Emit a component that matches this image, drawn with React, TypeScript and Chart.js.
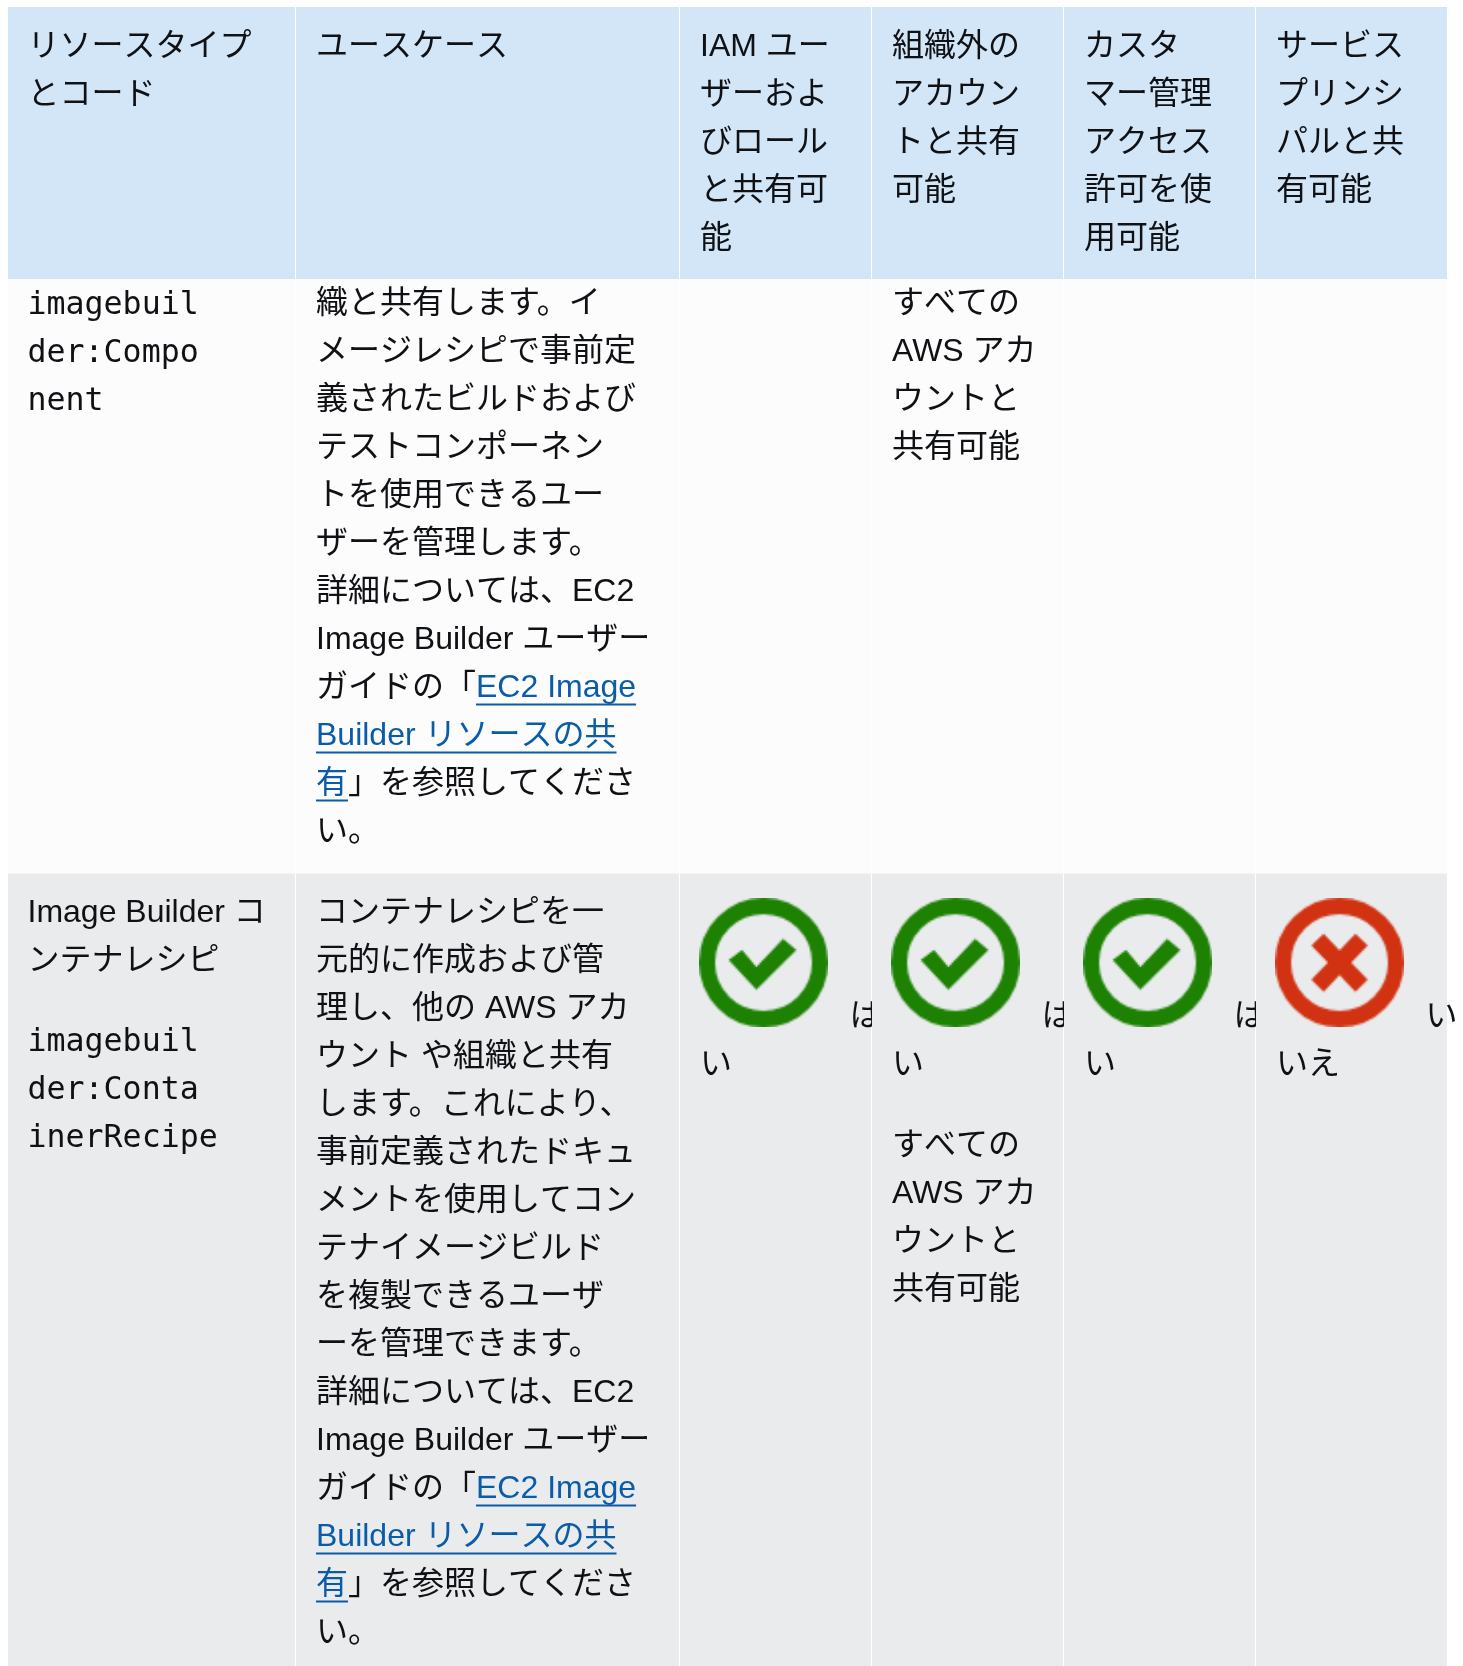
import React, { useEffect, useRef } from "react";
import { Chart, registerables } from "chart.js";

Chart.register(...registerables);

// ---- table content ----
const columnEdges = [8, 296, 680, 872, 1064, 1256, 1447];
const rowEdges = [7, 279, 873.5, 1666];
const rowColors = ["#d3e6f8", "#fcfcfc", "#e9ebed"];

const headerLabels = [
  ["リソースタイプ", "とコード"],
  ["ユースケース"],
  ["IAM ユー", "ザーおよ", "びロール", "と共有可", "能"],
  ["組織外の", "アカウン", "トと共有", "可能"],
  ["カスタ", "マー管理", "アクセス", "許可を使", "用可能"],
  ["サービス", "プリンシ", "パルと共", "有可能"],
];

const componentCode = ["imagebuil", "der:Compo", "nent"];
const componentUseCase = [
  "織と共有します。イ",
  "メージレシピで事前定",
  "義されたビルドおよび",
  "テストコンポーネン",
  "トを使用できるユー",
  "ザーを管理します。",
  "詳細については、EC2",
  "Image Builder ユーザー",
  "ガイドの「[EC2 Image]",
  "[Builder リソースの共]",
  "[有]」を参照してくださ",
  "い。",
];
const componentOrgNote = ["すべての", "AWS アカ", "ウントと", "共有可能"];

const recipeName = ["Image Builder コ", "ンテナレシピ"];
const recipeCode = ["imagebuil", "der:Conta", "inerRecipe"];
const recipeUseCase = [
  "コンテナレシピを一",
  "元的に作成および管",
  "理し、他の AWS アカ",
  "ウント や組織と共有",
  "します。これにより、",
  "事前定義されたドキュ",
  "メントを使用してコン",
  "テナイメージビルド",
  "を複製できるユーザ",
  "ーを管理できます。",
  "詳細については、EC2",
  "Image Builder ユーザー",
  "ガイドの「[EC2 Image]",
  "[Builder リソースの共]",
  "[有]」を参照してくださ",
  "い。",
];
const recipeOrgNote = ["すべての", "AWS アカ", "ウントと", "共有可能"];
const recipeAnswers = ["はい", "はい", "はい", "いいえ"];

// ---- layout ----
const LINE = 48;
const PAD = 20;
const ICON = 129;
const ICON_TOP = 898;
const SANS = '32px "Liberation Sans", "Noto Sans CJK JP", sans-serif';
const MONO = '31.6px "DejaVu Sans Mono", "Noto Sans CJK JP", monospace';
const INK = "#0f1115";
const LINK = "#0a5ca8";

function makeIcon(kind: string) {
  const small = document.createElement("canvas");
  small.width = small.height = 64;
  const s = small.getContext("2d")!;
  const k = 64 / ICON;
  s.scale(k, k);
  const color = kind === "yes" ? "#1d8102" : "#d13212";
  s.strokeStyle = color;
  s.fillStyle = color;
  s.lineWidth = 16;
  s.beginPath();
  s.arc(64.5, 64.5, 56.5, 0, Math.PI * 2);
  s.stroke();
  if (kind === "yes") {
    s.beginPath();
    const pts = [[29.7, 62], [43, 52], [57.3, 69], [84, 40.7], [97.3, 52], [57.3, 91.7]];
    pts.forEach(([x, y], i) => (i ? s.lineTo(x, y) : s.moveTo(x, y)));
    s.closePath();
    s.fill();
  } else {
    s.lineWidth = 17;
    s.beginPath();
    s.moveTo(42.5, 41.7);
    s.lineTo(86.5, 87.7);
    s.moveTo(86.5, 41.7);
    s.lineTo(42.5, 87.7);
    s.stroke();
  }
  const big = document.createElement("canvas");
  big.width = big.height = ICON;
  const b = big.getContext("2d")!;
  b.imageSmoothingEnabled = true;
  b.drawImage(small, 0, 0, ICON, ICON);
  return big;
}

type Block = { col: number; baseline: number; lines: string[]; font?: string };

const blocks: Block[] = [
  ...headerLabels.map((lines, col) => ({ col, baseline: 56, lines })),
  { col: 0, baseline: 314, lines: componentCode, font: MONO },
  { col: 1, baseline: 313, lines: componentUseCase },
  { col: 3, baseline: 313, lines: componentOrgNote },
  { col: 0, baseline: 922, lines: recipeName },
  { col: 0, baseline: 1050.5, lines: recipeCode, font: MONO },
  { col: 1, baseline: 922, lines: recipeUseCase },
  { col: 3, baseline: 1155, lines: recipeOrgNote },
];

function drawMarkup(ctx: CanvasRenderingContext2D, line: string, px: number, py: number) {
  const parts = line.split(/(\[[^\]]*\])/).filter(Boolean);
  let cx = px;
  for (const part of parts) {
    const isLink = part.startsWith("[");
    const text = isLink ? part.slice(1, -1) : part;
    const w = ctx.measureText(text).width;
    ctx.fillStyle = isLink ? LINK : INK;
    ctx.fillText(text, cx, py);
    if (isLink) ctx.fillRect(cx, py + 6.5, w, 2);
    cx += w;
  }
}

const tableTextPlugin = {
  id: "tableText",
  afterDatasetsDraw(chart: any) {
    const { ctx, scales } = chart;
    const X = (v: number) => scales.x.getPixelForValue(v);
    const Y = (v: number) => scales.y.getPixelForValue(v);
    ctx.save();
    ctx.textBaseline = "alphabetic";
    ctx.textAlign = "left";
    for (const b of blocks) {
      ctx.font = b.font || SANS;
      b.lines.forEach((line, i) => {
        drawMarkup(ctx, line, X(columnEdges[b.col] + PAD - (b.col === 0 ? 0.5 : 0)), Y(b.baseline + i * LINE));
      });
    }
    // Yes / no answers wrap around the inline icon: first character after the
    // icon at the cell edge, the remainder on the next line.
    ctx.font = SANS;
    ctx.fillStyle = INK;
    recipeAnswers.forEach((answer, i) => {
      const col = i + 2;
      const left = columnEdges[col] + PAD;
      ctx.save();
      if (col < columnEdges.length - 2) {
        ctx.beginPath();
        ctx.rect(X(columnEdges[col]), Y(rowEdges[2]), X(columnEdges[col + 1]) - X(columnEdges[col]), 300);
        ctx.clip();
      }
      ctx.fillText(answer[0], X(left + ICON + 20.5), Y(1026));
      ctx.fillText(answer.slice(1), X(left), Y(1074));
      ctx.restore();
    });
    ctx.restore();
  },
};

export default function App() {
  const ref = useRef<HTMLCanvasElement>(null);
  useEffect(() => {
    const yes = makeIcon("yes");
    const no = makeIcon("no");
    const cellDatasets = columnEdges.slice(0, -1).map((left, c) => {
      const right = columnEdges[c + 1];
      const gap = c < columnEdges.length - 2 ? 1 : 0;
      return {
        type: "bar" as const,
        order: 2,
        grouped: false,
        barThickness: right - left - gap,
        inflateAmount: 0,
        borderWidth: 0,
        borderSkipped: false,
        backgroundColor: rowColors,
        data: rowColors.map((_, r) => ({
          x: (left + right - gap) / 2,
          y: [rowEdges[r], rowEdges[r + 1]],
        })),
      };
    });
    const iconDatasets = recipeAnswers.map((a, i) => ({
      type: "scatter" as const,
      order: 1,
      pointStyle: a === "はい" ? yes : no,
      pointRadius: 10,
      data: [{ x: columnEdges[i + 2] + 19 + ICON / 2, y: ICON_TOP + ICON / 2 }],
    }));
    const chart = new Chart(ref.current!, {
      data: { datasets: [...cellDatasets, ...iconDatasets] as any },
      options: {
        animation: false,
        responsive: false,
        devicePixelRatio: 1,
        layout: { padding: 0, autoPadding: false },
        plugins: { legend: { display: false }, tooltip: { enabled: false } },
        events: [],
        scales: {
          x: { type: "linear", min: 0, max: 1463, offset: false, display: false },
          y: { type: "linear", min: 0, max: 1666, reverse: true, display: false },
        },
      },
      plugins: [tableTextPlugin],
    } as any);
    return () => chart.destroy();
  }, []);
  return (
    <canvas
      ref={ref}
      width={1463}
      height={1666}
      style={{ position: "absolute", left: 0, top: 0, display: "block", background: "#ffffff" }}
    />
  );
}
